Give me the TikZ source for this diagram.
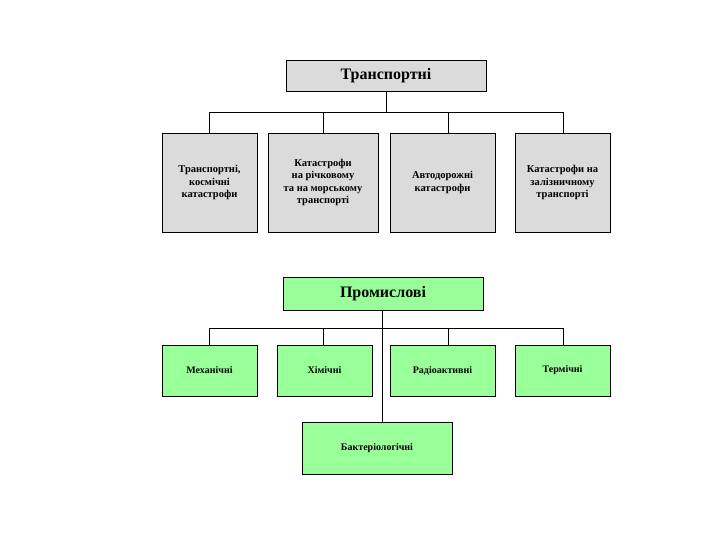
\documentclass[tikz,border=0pt]{standalone}
\usepackage{fontspec}
\setmainfont{Liberation Serif}
\begin{document}
\begin{tikzpicture}[x=1pt,y=-1pt,
  gbox/.style={draw=black,line width=0.8pt,fill=gray!28,align=center,font=\bfseries\fontsize{10.5}{12.5}\selectfont,inner sep=0pt},
  grbox/.style={draw=black,line width=0.8pt,fill=green!40!white,align=center,font=\bfseries\fontsize{10}{12}\selectfont,inner sep=0pt},
  ln/.style={line width=0.6pt}]
\useasboundingbox (0,0) rectangle (720,540);
\node[gbox,minimum width=200,minimum height=31,font=\bfseries\fontsize{16}{18}\selectfont] (t) at (386,75.5) {Транспортні};
\node[gbox,minimum width=95,minimum height=99] (t1) at (209.5,182.5) {Транспортні,\\космічні\\катастрофи};
\node[gbox,minimum width=110,minimum height=99] (t2) at (323,182.5) {Катастрофи\\на річковому\\та на морському\\транспорті};
\node[gbox,minimum width=105,minimum height=99] (t3) at (442.5,182.5) {Автодорожні\\катастрофи};
\node[gbox,minimum width=95,minimum height=99] (t4) at (562.5,182.5) {Катастрофи на\\залізничному\\транспорті};
\coordinate (tb) at (386,112);
\draw[ln] (t.south) -- (tb);
\draw[ln] (209,112) -- (563,112);
\draw[ln] (209,112) -- (209,133);
\draw[ln] (323,112) -- (323,133);
\draw[ln] (448,112) -- (448,133);
\draw[ln] (563,112) -- (563,133);

\node[grbox,minimum width=200,minimum height=33,font=\bfseries\fontsize{16}{18}\selectfont] (p) at (383,293.5) {Промислові};
\node[grbox,minimum width=95,minimum height=51] (p1) at (209.5,370.5) {Механічні};
\node[grbox,minimum width=95,minimum height=51] (p2) at (324.5,370.5) {Хімічні};
\node[grbox,minimum width=105,minimum height=51] (p3) at (442.5,370.5) {Радіоактивні};
\node[grbox,minimum width=95,minimum height=51] (p4) at (562.5,370.5) {Термічні};
\node[grbox,minimum width=150,minimum height=52] (p5) at (377,448) {Бактеріологічні};
\draw[ln] (382,310) -- (382,422);
\draw[ln] (209,328) -- (563,328);
\draw[ln] (209,328) -- (209,345);
\draw[ln] (323,328) -- (323,345);
\draw[ln] (448,328) -- (448,345);
\draw[ln] (563,328) -- (563,345);
\end{tikzpicture}
\end{document}
